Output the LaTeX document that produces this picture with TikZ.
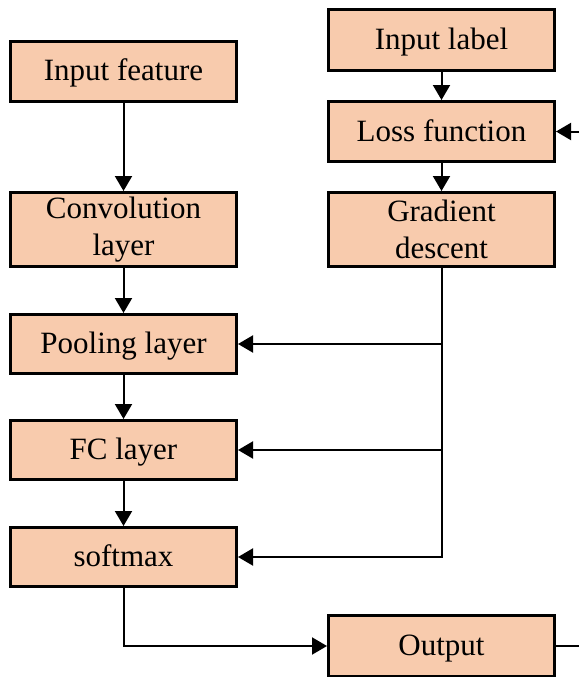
\documentclass[tikz,border=0pt]{standalone}
\usepackage{fontspec}
\setmainfont{Liberation Serif}
\usetikzlibrary{arrows.meta}
\definecolor{boxfill}{HTML}{F8CBAD}
\begin{document}
\begin{tikzpicture}[x=1pt,y=-1pt,
  blk/.style={draw=black, line width=3pt, fill=boxfill, minimum width=226pt,
    inner sep=0pt, align=center, font=\fontsize{31}{37}\selectfont},
  one/.style={blk, text height=21pt, text depth=2pt},
  arr/.style={line width=2pt, -{Triangle[length=15pt,width=17pt]}},
  ln/.style={line width=2pt}]
\useasboundingbox (0,0) rectangle (579,677);
\node[one, minimum height=60pt] (feat) at (123.5,71.5) {Input feature};
\node[blk, minimum height=74pt] (conv) at (123.5,229.5) {Convolution\\layer};
\node[one, minimum height=59pt] (pool) at (123.5,344) {Pooling layer};
\node[one, minimum height=59pt] (fc) at (123.5,450) {FC layer};
\node[one, minimum height=59pt] (soft) at (123.5,557) {softmax};
\node[one, minimum height=61pt] (label) at (441.5,40) {Input label};
\node[one, minimum height=60pt] (loss) at (441.5,131.5) {Loss function};
\node[blk, minimum height=74pt] (grad) at (441.5,229.5) {Gradient\\descent};
\node[one, minimum height=61pt] (out) at (441.5,646) {Output};
\coordinate (fbout) at (579,646);
\coordinate (fbin) at (579,131.5);
\draw[arr] (feat) -- (conv);
\draw[arr] (conv) -- (pool);
\draw[arr] (pool) -- (fc);
\draw[arr] (fc) -- (soft);
\draw[arr] (label) -- (loss);
\draw[arr] (loss) -- (grad);
\draw[arr] (grad.south) |- (pool.east);
\draw[arr] (grad.south) |- (fc.east);
\draw[arr] (grad.south) |- (soft.east);
\draw[arr] (soft.south) |- (out.west);
\draw[ln] (out.east) -- (fbout);
\draw[arr] (fbin) -- (loss.east);
\end{tikzpicture}
\end{document}
